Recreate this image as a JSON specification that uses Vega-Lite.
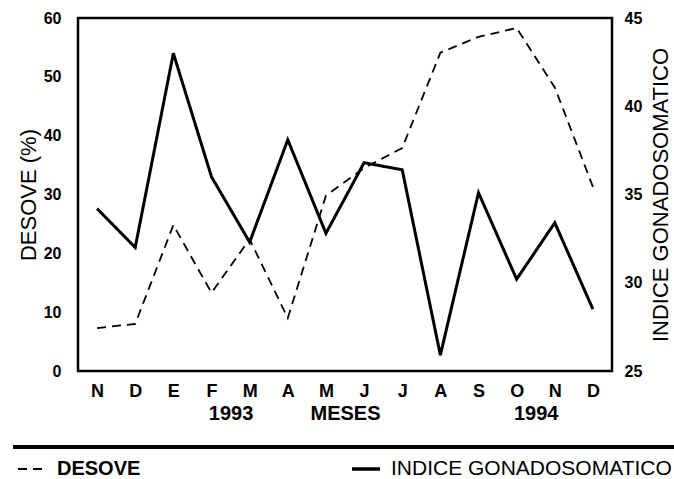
{
  "$schema": "https://vega.github.io/schema/vega-lite/v6.json",
  "width": 534,
  "height": 353,
  "autosize": {"type": "none"},
  "padding": {"left": 78, "top": 18, "right": 62, "bottom": 108},
  "background": "white",
  "config": {
    "font": "Liberation Sans",
    "view": {"stroke": "black", "strokeWidth": 2.5},
    "axis": {"domain": false, "ticks": false, "grid": false, "labelColor": "black", "titleColor": "black"},
    "legend": {"padding": 0}
  },
  "data": {
    "values": [
      {"i": 0, "mes": "N", "desove": 7.3, "igs": 34.2},
      {"i": 1, "mes": "D", "desove": 8.0, "igs": 32.0},
      {"i": 2, "mes": "E", "desove": 24.8, "igs": 43.0},
      {"i": 3, "mes": "F", "desove": 13.3, "igs": 36.0},
      {"i": 4, "mes": "M", "desove": 22.4, "igs": 32.3},
      {"i": 5, "mes": "A", "desove": 9.0, "igs": 38.1},
      {"i": 6, "mes": "M", "desove": 29.8, "igs": 32.8},
      {"i": 7, "mes": "J", "desove": 34.5, "igs": 36.8},
      {"i": 8, "mes": "J", "desove": 37.9, "igs": 36.4},
      {"i": 9, "mes": "A", "desove": 54.1, "igs": 25.9},
      {"i": 10, "mes": "S", "desove": 56.8, "igs": 35.1},
      {"i": 11, "mes": "O", "desove": 58.3, "igs": 30.2},
      {"i": 12, "mes": "N", "desove": 48.2, "igs": 33.4},
      {"i": 13, "mes": "D", "desove": 31.3, "igs": 28.5}
    ]
  },
  "layer": [
    {
      "mark": {"type": "line", "color": "black", "strokeWidth": 1.8},
      "encoding": {
        "x": {
          "field": "i", "type": "quantitative",
          "scale": {"domain": [-0.5, 13.5], "nice": false, "zero": false},
          "axis": {
            "values": [0, 1, 2, 3, 4, 5, 6, 7, 8, 9, 10, 11, 12, 13],
            "labelExpr": "['N','D','E','F','M','A','M','J','J','A','S','O','N','D'][datum.value]",
            "labelFontSize": 18, "labelFontWeight": "bold", "labelPadding": 11, "title": null
          }
        },
        "y": {
          "field": "desove", "type": "quantitative",
          "scale": {"domain": [0, 60], "nice": false},
          "axis": {
            "values": [0, 10, 20, 30, 40, 50, 60],
            "labelFontSize": 16, "labelFontWeight": "bold", "labelPadding": 17,
            "title": "DESOVE (%)", "titleFontSize": 22, "titleFontWeight": "normal", "titlePadding": 3
          }
        },
        "strokeDash": {
          "datum": "DESOVE", "type": "nominal",
          "scale": {"domain": ["DESOVE"], "range": [[9, 6]]},
          "legend": {
            "title": null, "orient": "none",
            "legendX": -61, "legendY": 436,
            "symbolType": "stroke", "symbolSize": 784, "symbolStrokeWidth": 2,
            "symbolStrokeColor": "black",
            "labelFontSize": 20, "labelFontWeight": "bold", "labelColor": "black", "labelOffset": 10
          }
        }
      }
    },
    {
      "mark": {"type": "line", "color": "black", "strokeWidth": 3},
      "encoding": {
        "x": {
          "field": "i", "type": "quantitative",
          "scale": {"domain": [-0.5, 13.5], "nice": false, "zero": false},
          "axis": {
            "orient": "bottom", "values": [3.5, 6.5, 11.5], "offset": 24,
            "labelExpr": "datum.value == 3.5 ? '1993' : (datum.value == 6.5 ? 'MESES' : '1994')",
            "labelFontSize": 20, "labelFontWeight": "bold", "labelPadding": 8, "title": null
          }
        },
        "y": {
          "field": "igs", "type": "quantitative",
          "scale": {"domain": [25, 45], "nice": false, "zero": false},
          "axis": {
            "orient": "right", "values": [25, 30, 35, 40, 45],
            "labelFontSize": 16, "labelFontWeight": "bold", "labelPadding": 12,
            "title": "INDICE GONADOSOMATICO", "titleFontSize": 22, "titleFontWeight": "normal",
            "titleAngle": 270, "titleBaseline": "top", "titlePadding": 9
          }
        },
        "strokeDash": {
          "datum": "INDICE GONADOSOMATICO", "type": "nominal",
          "scale": {"domain": ["INDICE GONADOSOMATICO"], "range": [[1, 0]]},
          "legend": {
            "title": null, "orient": "none",
            "legendX": 272, "legendY": 435,
            "symbolType": "stroke", "symbolSize": 784, "symbolStrokeWidth": 3.5,
            "symbolStrokeColor": "black",
            "labelFontSize": 21, "labelFontWeight": "normal", "labelColor": "black", "labelOffset": 9,
            "labelLimit": 400
          }
        }
      }
    },
    {
      "mark": {"type": "rule", "color": "black", "strokeWidth": 2.5, "clip": false},
      "encoding": {
        "x": {"datum": -2.2, "type": "quantitative", "scale": {"domain": [-0.5, 13.5], "nice": false, "zero": false}, "axis": null},
        "x2": {"datum": 15.3},
        "y": {"datum": -12.9, "type": "quantitative", "scale": {"domain": [0, 60], "nice": false}, "axis": null}
      }
    }
  ],
  "resolve": {
    "scale": {"y": "independent", "strokeDash": "independent"},
    "axis": {"x": "independent"},
    "legend": {"strokeDash": "independent"}
  }
}
